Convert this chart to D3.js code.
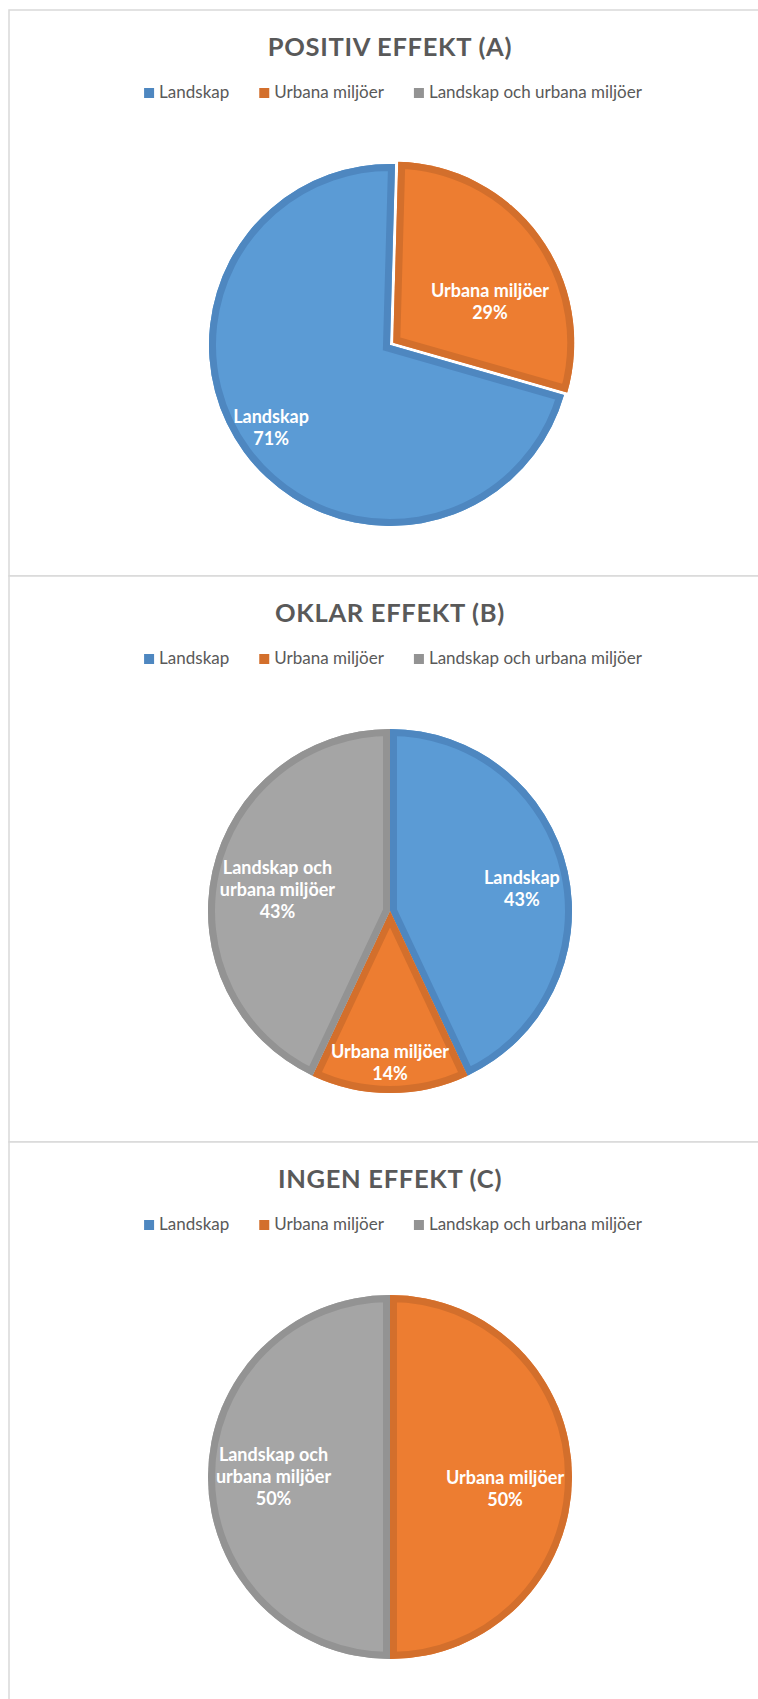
<!DOCTYPE html>
<html lang="sv">
<head>
  <meta charset="UTF-8">
  <title>Effekt</title>
  <script src="https://cdn.jsdelivr.net/npm/d3@7"></script>
  <style>
    body { margin: 0; background: #fff; }
    text { font-family: Lato, "Open Sans", sans-serif; }
  </style>
</head>
<body>
  <script>
    // data
    const categories = ['Landskap', 'Urbana miljöer', 'Landskap och urbana miljöer']
    const labelLines = [['Landskap'], ['Urbana miljöer'], ['Landskap och', 'urbana miljöer']]
    const titles = ['POSITIV EFFEKT (A)', 'OKLAR EFFEKT (B)', 'INGEN EFFEKT (C)']
    const valuesA = [71, 29, 0]
    const valuesB = [43, 14, 43]
    const valuesC = [0, 50, 50]

    const fills = ['#5b9bd5', '#ed7d31', '#a5a5a5']
    const borders = ['#4e87c0', '#d36f2c', '#939393']

    // per chart layout: rotation of first slice, exploded slice, label placement [radius part, angle nudge]
    const charts = [
      { title: titles[0], values: valuesA, rot: 106, explode: 1, R: 181,
        labels: [[0.80, 1.4], [0.58, 13.4], [0.6, 0]] },
      { title: titles[1], values: valuesB, rot: 0, explode: -1, R: 182,
        labels: [[0.735, 3], [0.83, 0], [0.63, -1.6]] },
      { title: titles[2], values: valuesC, rot: 0, explode: -1, R: 182,
        labels: [[0.6, 0], [0.635, 5.5], [0.64, 0]] }
    ]

    const W = 758, H = 1699
    const panelH = 566
    const cx = 390
    const inset = 7

    const svg = d3.select('body').append('svg')
      .attr('width', W)
      .attr('height', H)
    const defs = svg.append('defs')

    charts.forEach((c, i) => {
      const top = 10 + i * panelH
      const g = svg.append('g').attr('transform', `translate(0,${top})`)

      // ram
      g.append('rect')
        .attr('x', 9).attr('y', 0)
        .attr('width', 766).attr('height', panelH)
        .attr('fill', '#fff')
        .attr('stroke', '#d9d9d9')
        .attr('stroke-width', 1.5)

      // titel
      g.append('text')
        .attr('x', cx).attr('y', 46)
        .attr('text-anchor', 'middle')
        .attr('font-size', 25.5)
        .attr('font-weight', 700)
        .attr('letter-spacing', 0.7)
        .attr('fill', '#595959')
        .text(c.title)

      // legend
      const lg = g.append('g')
      const items = categories.map((cat, j) => {
        const it = lg.append('g')
        it.append('rect')
          .attr('y', 78).attr('width', 10).attr('height', 10)
          .attr('fill', borders[j])
        const t = it.append('text')
          .attr('x', 15).attr('y', 88)
          .attr('font-size', 17)
          .attr('fill', '#595959')
          .text(cat)
        return { it, w: 15 + t.node().getComputedTextLength() }
      })
      const total = d3.sum(items, d => d.w) + 30 * (items.length - 1)
      let lx = cx + 3 - total / 2
      items.forEach(d => {
        d.it.attr('transform', `translate(${lx},0)`)
        lx += d.w + 30
      })

      // paj
      const sum = d3.sum(c.values)
      const start = c.rot * Math.PI / 180
      const pie = d3.pie().sort(null).value(d => d.value)
        .startAngle(start).endAngle(start + 2 * Math.PI)
      const arcs = pie(c.values.map((v, j) => ({ value: v, idx: j })))
      const arc = d3.arc().innerRadius(0).outerRadius(c.R)
      const pg = g.append('g').attr('transform', `translate(${cx},335)`)

      arcs.filter(a => a.value > 0).forEach(a => {
        const j = a.data.idx
        const mid = (a.startAngle + a.endAngle) / 2
        const off = j === c.explode ? 4 : 0
        const dx = Math.sin(mid) * off, dy = -Math.cos(mid) * off
        const sg = pg.append('g').attr('transform', `translate(${dx},${dy})`)
        const id = `clip-${i}-${j}`
        defs.append('clipPath').attr('id', id)
          .append('path').attr('d', arc(a))
        sg.append('path')
          .attr('d', arc(a))
          .attr('fill', fills[j])
        sg.append('path')
          .attr('d', arc(a))
          .attr('fill', 'none')
          .attr('stroke', borders[j])
          .attr('stroke-width', inset * 2)
          .attr('clip-path', `url(#${id})`)

        // etikett
        const [frac, nudge] = c.labels[j]
        const ang = mid + nudge * Math.PI / 180
        const lr = frac * c.R
        const [x, y] = d3.arc().innerRadius(lr).outerRadius(lr)
          .centroid({ startAngle: ang, endAngle: ang })
        const lines = labelLines[j].concat([Math.round(a.value / sum * 100) + '%'])
        const t = sg.append('text')
          .attr('text-anchor', 'middle')
          .attr('font-size', 18)
          .attr('font-weight', 700)
          .attr('fill', '#fff')
        lines.forEach((s, k) => {
          t.append('tspan')
            .attr('x', x)
            .attr('y', y + (k - (lines.length - 1) / 2) * 22)
            .attr('dy', '0.36em')
            .text(s)
        })
      })
    })
  </script>
</body>
</html>
